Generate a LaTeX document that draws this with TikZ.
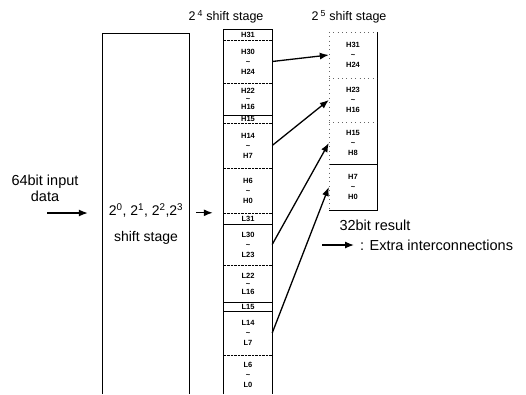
\documentclass[tikz,border=0pt]{standalone}
\usepackage{fontspec}
\setmainfont{Liberation Sans}
\usetikzlibrary{arrows.meta}
\begin{document}
\begin{tikzpicture}[x=1pt,y=-1pt,
  seg/.style={minimum width=48pt, inner sep=0pt, align=center, font=\fontsize{7.5}{10}\selectfont\bfseries},
  segs/.style={seg, font=\fontsize{7.5}{8}\selectfont\bfseries},
  big/.style={font=\fontsize{14.5}{16}\selectfont, inner sep=0pt},
  hdr/.style={font=\fontsize{12.5}{15}\selectfont, inner sep=0pt},
  wire/.style={line width=1.3pt, -{Latex[length=9pt,width=7pt]}},
  edge/.style={line width=0.7pt},
  sep/.style={line width=0.4pt, densely dotted},
  solidsep/.style={line width=0.7pt},
  faint/.style={line width=0.4pt, loosely dotted, black!60},
]
\useasboundingbox (0,0) rectangle (526,394);

% headers
\node[hdr] (h4) at (226,17) {2\,\textsuperscript{4} shift stage};
\node[hdr] (h5) at (349,17) {2\,\textsuperscript{5} shift stage};

% left box
\node[minimum width=86pt, minimum height=360pt, inner sep=0pt] (lbox) at (146,214) {};
\draw[edge] (lbox.south west) -- (lbox.north west) -- (lbox.north east) -- (lbox.south east);
\node[align=center, font=\fontsize{14}{26}\selectfont, inner sep=0pt] (stage) at (146,224)
  {2\textsuperscript{0}, 2\textsuperscript{1}, 2\textsuperscript{2},2\textsuperscript{3}\\shift stage};

% input
\node[big, align=center] (inlbl) at (45,188) {64bit input\\data};
\coordinate (src) at (47,213);
\draw[wire, shorten >=15pt] (src) -- (lbox.west |- src);

% middle column (2^4 stage)
\node[seg,  minimum height=10pt] (m1)  at (248,35)    {H31};
\node[seg,  minimum height=43pt] (m2)  at (248,61.5)  {H30\\\textasciitilde\\H24};
\node[segs, minimum height=32pt] (m3)  at (248,99)    {H22\\\textasciitilde\\H16};
\node[seg,  minimum height=8pt]  (m4)  at (248,119)   {H15};
\node[seg,  minimum height=45pt] (m5)  at (248,145.5) {H14\\\textasciitilde\\H7};
\node[seg,  minimum height=45pt] (m6)  at (248,190.5) {H6\\\textasciitilde\\H0};
\node[seg,  minimum height=11pt] (m7)  at (248,218.5) {L31};
\node[seg,  minimum height=41pt] (m8)  at (248,244.5) {L30\\\textasciitilde\\L23};
\node[segs, minimum height=37pt] (m9)  at (248,283.5) {L22\\\textasciitilde\\L16};
\node[seg,  minimum height=9pt]  (m10) at (248,306.5) {L15};
\node[seg,  minimum height=44pt] (m11) at (248,333)   {L14\\\textasciitilde\\L7};
\node[seg,  minimum height=39pt] (m12) at (248,374.5) {L6\\\textasciitilde\\L0};

\draw[edge] (m12.south west) -- (m1.north west) -- (m1.north east) -- (m12.south east);
\draw[sep] (m1.south west) -- (m1.south east);
\draw[sep] (m2.south west) -- (m2.south east);
\draw[line width=1pt] (m3.south west) -- (m3.south east);
\draw[sep] (m4.south west) -- (m4.south east);
\draw[sep] (m5.south west) -- (m5.south east);
\draw[sep] (m6.south west) -- (m6.south east);
\draw[solidsep] (m7.south west) -- (m7.south east);
\draw[sep] (m8.south west) -- (m8.south east);
\draw[solidsep] (m9.south west) -- (m9.south east);
\draw[solidsep] (m10.south west) -- (m10.south east);
\draw[sep] (m11.south west) -- (m11.south east);

% right column (2^5 stage)
\node[seg, minimum height=46pt] (r1) at (353,55)  {H31\\\textasciitilde\\H24};
\node[seg, minimum height=44pt] (r2) at (353,100) {H23\\\textasciitilde\\H16};
\node[seg, minimum height=42pt] (r3) at (353,143) {H15\\\textasciitilde\\H8};
\node[seg, minimum height=46pt] (r4) at (353,187) {H7\\\textasciitilde\\H0};

\draw[edge] (r1.north east) -- (r4.south east) -- (r4.south west);
\draw[edge] (r3.south west) -- (r3.south east);
\draw[faint] (r1.north west) -- (r4.south west);
\draw[faint] (r1.north west) -- (r1.north east);
\draw[faint] (r1.south west) -- (r1.south east);
\draw[faint] (r2.south west) -- (r2.south east);

\node[big] (res) at (375,225) {32bit result};

% extra interconnections
\draw[wire] (m2.east) -- (r1.west);
\draw[wire] (m5.east) -- (r2.west);
\draw[wire] (m8.east) -- (r3.west);
\draw[wire] (m11.east) -- (r4.west);

% between stages
\draw[wire, shorten <=7pt, shorten >=11pt] (lbox.east |- m7.north) -- (m7.north west);

% legend
\node[big, anchor=west] (legend) at (360,245) {: Extra interconnections};
\coordinate (lg) at (322,245);
\draw[wire] (lg) -- ([xshift=-6pt]legend.west);
\end{tikzpicture}
\end{document}
